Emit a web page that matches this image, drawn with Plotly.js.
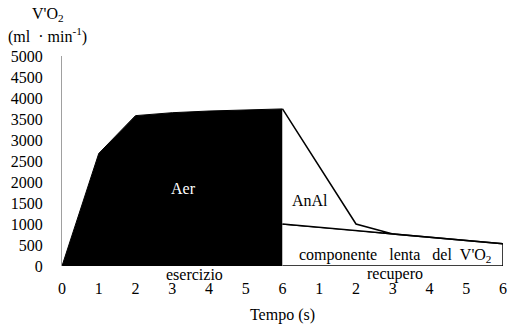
<!DOCTYPE html>
<html>
<head>
<meta charset="utf-8">
<script src="https://cdn.plot.ly/plotly-3.0.1.min.js"></script>
<style>html,body{margin:0;padding:0;background:#fff;}#chart{width:507px;height:329px;}</style>
</head>
<body>
<div id="chart"></div>
<script>
// categories (tick labels) along time axis
const tickLabels = ["0","1","2","3","4","5","6","1","2","3","4","5","6"];
const exerciseX = [0,1,2,3,4,5,6];
const exerciseVO2 = [0,2680,3580,3650,3690,3720,3740];
const recoveryX = [6,7,8,9,10,11,12];
const recoveryVO2 = [3740,2370,1000,760,680,600,530];
const slowVO2 = [1000,930,850,760,680,600,530];
const yTicks = [0,500,1000,1500,2000,2500,3000,3500,4000,4500,5000];

const FONT = "Liberation Serif, Times New Roman, serif";
const FS = 16;
const tickPos = tickLabels.map((_, i) => i);

const traces = [
  { // aerobic (black)
    x: exerciseX, y: exerciseVO2, type: 'scatter', mode: 'lines',
    fill: 'tozeroy', fillcolor: '#000', line: {color: '#000', width: 1}, hoverinfo: 'skip'
  },
  { // slow component lower line + box
    x: recoveryX.concat([recoveryX[recoveryX.length-1], recoveryX[0]]),
    y: slowVO2.concat([0, 0]),
    type: 'scatter', mode: 'lines', fill: 'toself', fillcolor: '#fff',
    line: {color: '#000', width: 1.5}, hoverinfo: 'skip'
  },
  { // anaerobic alactic region outline
    x: recoveryX.concat(recoveryX.slice().reverse()),
    y: recoveryVO2.concat(slowVO2.slice().reverse()),
    type: 'scatter', mode: 'lines', fill: 'toself', fillcolor: '#fff',
    line: {color: '#000', width: 1.5}, hoverinfo: 'skip'
  }
];

const layout = {
  width: 507, height: 329,
  margin: {l: 62, r: 4, t: 56, b: 63},
  paper_bgcolor: '#fff', plot_bgcolor: '#fff',
  showlegend: false,
  font: {family: FONT, size: FS, color: '#000'},
  xaxis: {
    range: [0, 12], tickvals: tickPos, ticktext: tickLabels,
    showgrid: false, zeroline: false, showline: false, ticks: '',
    ticklabelstandoff: 11,
    tickfont: {family: FONT, size: FS, color: '#000'},
    title: {text: 'Tempo (s)', font: {family: FONT, size: FS, color: '#000'}, standoff: 12}
  },
  yaxis: {
    range: [0, 5000], tickvals: yTicks, ticktext: yTicks.map(String),
    showgrid: false, zeroline: false, showline: true, linecolor: '#a0a0a0', linewidth: 1,
    ticks: '', ticklabelstandoff: 15,
    tickfont: {family: FONT, size: FS, color: '#000'}
  },
  annotations: [
    {xref: 'paper', yref: 'paper', x: -0.032, y: 1.2, yanchor: 'middle', xanchor: 'center',
     text: "V'O<sub>2</sub>", showarrow: false, font: {family: FONT, size: FS}},
    {xref: 'paper', yref: 'paper', x: -0.032, y: 1.097, yanchor: 'middle', xanchor: 'center',
     text: "(ml  · min<sup>-1</sup>)", showarrow: false, font: {family: FONT, size: FS}},
    {x: 3.3, y: 1850, text: 'Aer', showarrow: false, font: {family: FONT, size: FS, color: '#fff'}},
    {x: 6.75, y: 1550, text: 'AnAl', showarrow: false, font: {family: FONT, size: FS, color: '#000'}},
    {x: 9.05, y: 262, text: "componente&nbsp;&nbsp;&nbsp;lenta&nbsp;&nbsp;&nbsp;del&nbsp;&nbsp;V'O<sub>2</sub>", showarrow: false,
     font: {family: FONT, size: FS, color: '#000'}},
    {x: 3.6, xref: 'x', yref: 'paper', y: -0.04, yanchor: 'middle', text: 'esercizio', showarrow: false,
     font: {family: FONT, size: FS, color: '#000'}},
    {x: 9.05, xref: 'x', yref: 'paper', y: -0.04, yanchor: 'middle', text: 'recupero', showarrow: false,
     font: {family: FONT, size: FS, color: '#000'}}
  ]
};

Plotly.newPlot('chart', traces, layout, {displayModeBar: false, staticPlot: true});
</script>
</body>
</html>
